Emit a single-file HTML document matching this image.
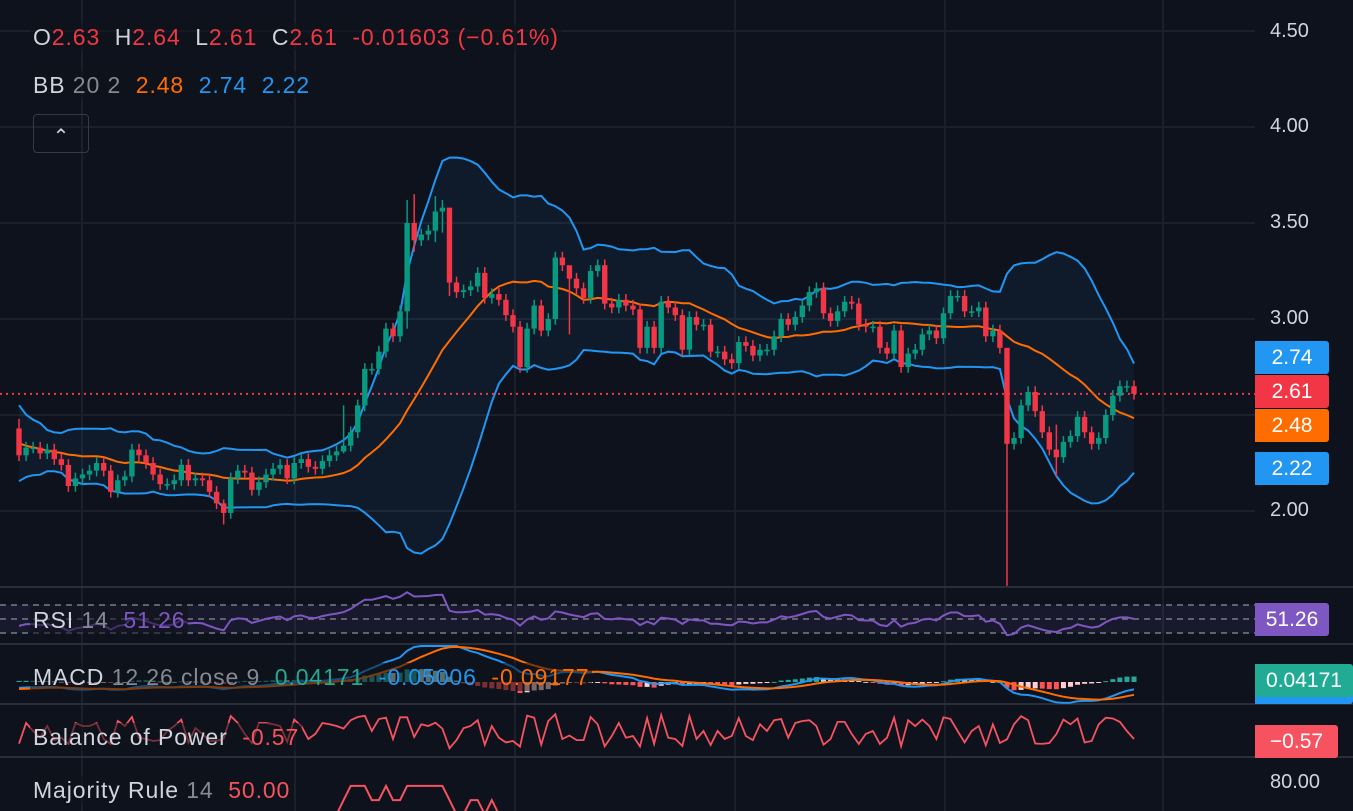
<!DOCTYPE html>
<html><head><meta charset="utf-8">
<style>
html,body{margin:0;padding:0;background:#0e121c;width:1353px;height:811px;overflow:hidden;font-family:"Liberation Sans",sans-serif;}
#wrap{position:relative;width:1353px;height:811px;overflow:hidden;}
svg{position:absolute;left:0;top:0;}
.lbl{position:absolute;left:30px;font-size:23px;letter-spacing:0.9px;color:#d1d4dc;white-space:nowrap;padding:0 3px;background:rgba(14,18,28,0.55);line-height:28px;}
.g{color:#868993}
.badge{position:absolute;left:1255px;width:74px;height:33px;border-radius:0 3px 3px 0;color:#fff;font-size:21px;line-height:33px;text-align:center;}
.ax{position:absolute;left:1270px;font-size:20px;color:#d1d4dc;}
</style></head>
<body>
<div id="wrap">
<svg id="chart" width="1353" height="811"></svg>

<div class="lbl" style="top:23px;">O<span style="color:#f23645">2.63</span>&nbsp; H<span style="color:#f23645">2.64</span>&nbsp; L<span style="color:#f23645">2.61</span>&nbsp; C<span style="color:#f23645">2.61&nbsp; -0.01603 (−0.61%)</span></div>
<div class="lbl" style="top:71px;">BB <span class="g">20 2</span>&nbsp; <span style="color:#ff6d00">2.48</span>&nbsp; <span style="color:#2196f3">2.74</span>&nbsp; <span style="color:#2196f3">2.22</span></div>
<div style="position:absolute;left:33px;top:114px;width:56px;height:39px;border:1px solid #363a45;border-radius:4px;box-sizing:border-box;color:#d1d4dc;font-size:20px;text-align:center;line-height:44px;">&#8963;</div>

<div class="lbl" style="top:606px;">RSI <span class="g">14</span>&nbsp; <span style="color:#7e57c2">51.26</span></div>
<div class="lbl" style="top:663px;">MACD <span class="g">12 26 close 9</span>&nbsp; <span style="color:#22ab94">0.04171</span>&nbsp; <span style="color:#2196f3">-0.05006</span>&nbsp; <span style="color:#ff6d00">-0.09177</span></div>
<div class="lbl" style="top:723px;">Balance of Power&nbsp; <span style="color:#f7525f">-0.57</span></div>
<div class="lbl" style="top:776px;">Majority Rule <span class="g">14</span>&nbsp; <span style="color:#f7525f">50.00</span></div>

<div class="ax" style="top:20px">4.50</div>
<div class="ax" style="top:115px">4.00</div>
<div class="ax" style="top:211px">3.50</div>
<div class="ax" style="top:307px">3.00</div>
<div class="ax" style="top:499px">2.00</div>
<div class="ax" style="top:771px">80.00</div>

<div class="badge" style="top:341px;background:#2196f3">2.74</div>
<div class="badge" style="top:375px;background:#f23645">2.61</div>
<div class="badge" style="top:409px;background:#ff6d00">2.48</div>
<div class="badge" style="top:452px;background:#2196f3">2.22</div>
<div class="badge" style="top:603px;background:#7e57c2">51.26</div>
<div class="badge" style="top:680px;height:24px;width:98px;background:#2196f3"></div>
<div class="badge" style="top:664px;width:98px;background:#22ab94">0.04171</div>
<div class="badge" style="top:725px;width:83px;background:#f7525f">−0.57</div>
</div>

<script>
const preHistory=[2.55,2.6,2.5,2.45,2.5,2.4,2.35,2.3,2.25,2.3,2.2,2.25,2.3,2.35,2.4,2.3,2.25,2.3,2.35,2.42];
const firstOpen=2.43;
const closes=[2.29,2.33,2.33,2.30,2.32,2.27,2.24,2.13,2.17,2.19,2.21,2.25,2.21,2.10,2.16,2.18,2.32,2.29,2.25,2.19,2.14,2.14,2.16,2.24,2.16,2.17,2.16,2.10,2.04,1.99,2.17,2.21,2.20,2.11,2.15,2.19,2.22,2.24,2.17,2.25,2.27,2.23,2.22,2.26,2.29,2.31,2.34,2.41,2.55,2.74,2.74,2.83,2.95,2.91,3.04,
3.50,3.41,3.44,3.46,3.56,3.58,3.19,3.14,3.15,3.17,3.24,3.11,3.13,3.10,3.02,2.96,2.75,2.95,3.07,2.94,3.00,3.32,3.28,3.21,3.16,3.11,3.25,3.28,3.08,3.06,3.10,3.07,3.05,2.85,2.96,2.85,3.09,3.06,3.02,2.84,3.01,2.97,2.97,2.83,2.83,2.79,2.77,2.88,2.86,2.81,2.84,2.84,2.91,3.00,2.97,3.01,3.07,3.14,3.16,
3.03,2.99,3.04,3.09,3.08,2.97,2.96,2.96,2.85,2.82,2.94,2.75,2.82,2.84,2.92,2.94,2.90,3.03,3.12,3.12,3.04,3.04,3.06,2.91,2.94,2.85,2.35,2.38,2.55,2.62,2.52,2.41,2.32,2.28,2.36,2.39,2.49,2.41,2.35,2.38,2.50,2.60,2.65,2.65,2.61];
const wickIdx=[0,29,46,55,56,59,60,61,78,140,147];
const wickHigh=[2.48,2.06,2.55,3.62,3.65,3.64,3.62,3.57,3.23,2.82,2.45];
const wickLow=[2.26,1.93,2.30,2.95,3.35,3.40,3.45,3.12,2.92,1.61,2.18];
const lastPrice=2.61;
const priceTicks=[4.5,4.0,3.5,3.0,2.5,2.0];

const NS="http://www.w3.org/2000/svg";
const svg=document.getElementById('chart');
function el(tag,attrs,parent){const e=document.createElementNS(NS,tag);for(const k in attrs)e.setAttribute(k,attrs[k]);(parent||svg).appendChild(e);return e;}
const N=closes.length;
const X0=19,X1=1134;
const xs=i=>X0+i*(X1-X0)/(N-1);
const py=p=>319-(p-3)*192;

const grid=el('g',{});


priceTicks.forEach(t=>{el('line',{x1:0,x2:1255,y1:py(t),y2:py(t),stroke:'#1c202b','stroke-width':2},grid);});
[82,295,515,735,945,1163].forEach(x=>{el('line',{x1:x,x2:x,y1:0,y2:811,stroke:'#1c202b','stroke-width':2},grid);});
[587,644,704,757].forEach(y=>{el('line',{x1:0,x2:1353,y1:y,y2:y,stroke:'#2a2e39','stroke-width':2},grid);});

const opens=closes.map((c,i)=>i===0?firstOpen:closes[i-1]);
const highs=closes.map((c,i)=>Math.max(c,opens[i])+0.03);
const lows=closes.map((c,i)=>Math.min(c,opens[i])-0.03);
wickIdx.forEach((k,j)=>{highs[k]=wickHigh[j];lows[k]=wickLow[j];});

const all=preHistory.concat(closes);
const P=preHistory.length;
const up=[],mid=[],lo=[];
for(let i=0;i<N;i++){const w=all.slice(P+i-19,P+i+1);const m=w.reduce((a,b)=>a+b,0)/20;const sd=Math.sqrt(w.reduce((a,b)=>a+(b-m)*(b-m),0)/20);mid.push(m);up.push(m+2*sd);lo.push(m-2*sd);}
const pts=a=>a.map((v,i)=>xs(i).toFixed(1)+','+py(v).toFixed(1)).join(' ');
const fill=el('polygon',{points:pts(up)+' '+lo.map((v,i)=>[i,v]).reverse().map(([i,v])=>xs(i).toFixed(1)+','+py(v).toFixed(1)).join(' '),fill:'rgba(33,150,243,0.07)'});


const ub=el('polyline',{points:pts(up),fill:'none',stroke:'#2196f3','stroke-width':2});


const lb=el('polyline',{points:pts(lo),fill:'none',stroke:'#2196f3','stroke-width':2});


const mb=el('polyline',{points:pts(mid),fill:'none',stroke:'#ff6d00','stroke-width':2});



const lp=el('line',{x1:0,x2:1255,y1:py(lastPrice),y2:py(lastPrice),stroke:'#f23645','stroke-width':2,'stroke-dasharray':'2 4'});



const cg=el('g',{});


for(let i=0;i<N;i++){
  const o=opens[i],c=closes[i],col=c>=o?'#089981':'#f23645';const x=xs(i);
  const w=el('line',{x1:x,x2:x,y1:py(highs[i]),y2:Math.min(py(lows[i]),586),stroke:col,'stroke-width':1.5},cg);
  
  
  const t=py(Math.max(o,c)),b=py(Math.min(o,c));
  const r=el('rect',{x:x-2.7,y:t,width:5.4,height:Math.max(b-t,1.5),fill:col},cg);
  
  
}

const rsiY=r=>619-(r-50)*0.7;
el('rect',{x:0,y:rsiY(70),width:1255,height:rsiY(30)-rsiY(70),fill:'rgba(126,87,194,0.1)'});
[70,50,30].forEach(v=>el('line',{x1:0,x2:1255,y1:rsiY(v),y2:rsiY(v),stroke:'#787b86','stroke-width':1.5,'stroke-dasharray':'6 5'}));
let ag=0,al=0;for(let k=1;k<=14;k++){const d=all[k]-all[k-1];if(d>0)ag+=d;else al-=d;}ag/=14;al/=14;
const rsi=[];
for(let k=15;k<all.length;k++){const d=all[k]-all[k-1];ag=(ag*13+Math.max(d,0))/14;al=(al*13+Math.max(-d,0))/14;if(k>=P)rsi.push(100-100/(1+ag/(al||1e-9)));}
const rl=el('polyline',{points:rsi.map((v,i)=>xs(i).toFixed(1)+','+rsiY(v).toFixed(1)).join(' '),fill:'none',stroke:'#7e57c2','stroke-width':2});



const mY=v=>682-v*128;
let e12=all[0],e26=all[0],sig=0;const macd=[],sg=[],hist=[];
for(let k=0;k<all.length;k++){e12=e12+(all[k]-e12)*2/13;e26=e26+(all[k]-e26)*2/27;const m=e12-e26;sig=sig+(m-sig)*2/10;if(k>=P){macd.push(m);sg.push(sig);hist.push(m-sig);}}
const hg=el('g',{});


for(let i=0;i<N;i++){const h=hist[i],prev=i?hist[i-1]:h;const col=h>=0?(h>=prev?'#26a69a':'#b2dfdb'):(h<=prev?'#ff5252':'#ffcdd2');
  const y1=mY(Math.max(h,0)),y2=mY(Math.min(h,0));
  const r=el('rect',{x:xs(i)-2.5,y:y1,width:5,height:Math.max(y2-y1,1),fill:col},hg);
  
  }
const ml=el('polyline',{points:macd.map((v,i)=>xs(i).toFixed(1)+','+Math.max(mY(v),646).toFixed(1)).join(' '),fill:'none',stroke:'#2196f3','stroke-width':2});


const sl=el('polyline',{points:sg.map((v,i)=>xs(i).toFixed(1)+','+Math.max(mY(v),646).toFixed(1)).join(' '),fill:'none',stroke:'#ff6d00','stroke-width':2});



const bop=closes.map((c,i)=>(c-opens[i])/Math.max(highs[i]-lows[i],0.01));
const bl=el('polyline',{points:bop.map((v,i)=>xs(i).toFixed(1)+','+(731-v*20).toFixed(1)).join(' '),fill:'none',stroke:'#f7525f','stroke-width':1.8});



const mr=[];for(let i=0;i<N;i++){let u=0;for(let k=0;k<14;k++){const a=P+i-k;if(all[a]>all[a-1])u++;}mr.push(u/14*100);}
const clip=el('clipPath',{id:'mrclip'});el('rect',{x:0,y:758,width:1255,height:53},clip);
const mrl=el('polyline',{points:mr.map((v,i)=>xs(i).toFixed(1)+','+(783-(v-80)*2).toFixed(1)).join(' '),fill:'none',stroke:'#f7525f','stroke-width':2,'clip-path':'url(#mrclip)'});


</script>
</body></html>
